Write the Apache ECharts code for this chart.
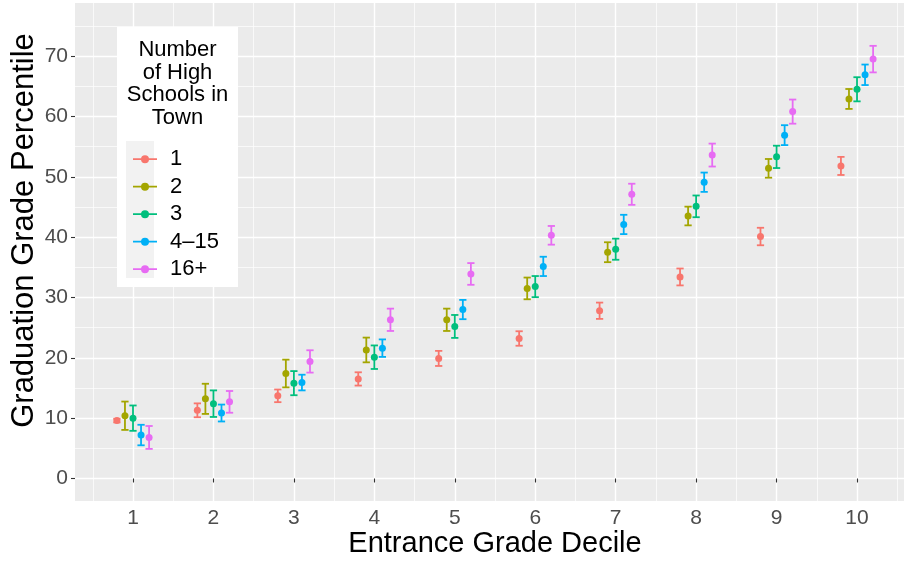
<!DOCTYPE html>
<html>
<head>
<meta charset="utf-8">
<script src="https://cdn.jsdelivr.net/npm/echarts@6/dist/echarts.min.js"></script>
<style>
  html, body { margin: 0; padding: 0; background: #ffffff; }
  #chart { width: 904px; height: 565px; }
</style>
</head>
<body>
<div id="chart"></div>
<script>
// Entrance grade deciles on the x axis
const deciles = [1, 2, 3, 4, 5, 6, 7, 8, 9, 10];

// Groups: number of high schools in town
const groupNames = ['1', '2', '3', '4–15', '16+'];
const groupColors = ['#F8766D', '#A3A500', '#00BF7D', '#00B0F6', '#E76BF3'];
const dodgeOffsets = [-0.2, -0.1, 0, 0.1, 0.2];

// Mean graduation grade percentile per decile, and half-width of the error bar
const mean1 = [9.6, 11.3, 13.7, 16.5, 19.9, 23.2, 27.8, 33.4, 40.1, 51.8];
const err1 = [0.3, 1.15, 1.05, 1.1, 1.25, 1.2, 1.35, 1.4, 1.45, 1.5];

const mean2 = [10.4, 13.2, 17.4, 21.3, 26.3, 31.5, 37.5, 43.5, 51.4, 62.9];
const err2 = [2.35, 2.5, 2.3, 2.05, 1.85, 1.8, 1.65, 1.55, 1.55, 1.65];

const mean3 = [10.0, 12.4, 15.8, 20.1, 25.2, 31.8, 38.0, 45.1, 53.3, 64.5];
const err3 = [2.1, 2.2, 2.0, 1.95, 1.9, 1.75, 1.75, 1.8, 1.85, 2.0];

const mean4to15 = [7.2, 10.85, 15.9, 21.6, 28.0, 35.15, 42.1, 49.1, 56.9, 66.9];
const err4to15 = [1.7, 1.4, 1.3, 1.45, 1.6, 1.6, 1.6, 1.6, 1.65, 1.7];

const mean16plus = [6.8, 12.7, 19.4, 26.3, 33.9, 40.3, 47.1, 53.6, 60.8, 69.5];
const err16plus = [1.9, 1.8, 1.85, 1.85, 1.8, 1.55, 1.75, 1.9, 2.0, 2.2];

// Axis ticks
const yTickValues = [0, 10, 20, 30, 40, 50, 60, 70];
const yMinorValues = [5, 15, 25, 35, 45, 55, 65, 75];
const xTickValues = deciles;
const xMinorValues = [0.5, 1.5, 2.5, 3.5, 4.5, 5.5, 6.5, 7.5, 8.5, 9.5, 10.5];

const groupMeans = [mean1, mean2, mean3, mean4to15, mean16plus];
const groupErrs = [err1, err2, err3, err4to15, err16plus];

const FONT = '"Liberation Sans", Arial, Helvetica, sans-serif';
const X_MIN = 0.279, X_MAX = 10.584;
const Y_MIN = -3.73, Y_MAX = 78.8;
const CAP_WIDTH = 0.09;

function renderErrorBar(params, api) {
  const x = api.value(0);
  const top = api.coord([x, api.value(2)]);
  const bot = api.coord([x, api.value(1)]);
  const half = api.size([CAP_WIDTH, 0])[0] / 2;
  const style = { stroke: api.visual('color'), lineWidth: 1.8, fill: null };
  return {
    type: 'group',
    children: [
      { type: 'line', shape: { x1: top[0], y1: top[1], x2: bot[0], y2: bot[1] }, style: style },
      { type: 'line', shape: { x1: top[0] - half, y1: top[1], x2: top[0] + half, y2: top[1] }, style: style },
      { type: 'line', shape: { x1: bot[0] - half, y1: bot[1], x2: bot[0] + half, y2: bot[1] }, style: style }
    ]
  };
}

const series = [];
groupNames.forEach(function (name, g) {
  const pts = deciles.map(function (d, i) { return [d + dodgeOffsets[g], groupMeans[g][i]]; });
  series.push({
    name: name,
    type: 'scatter',
    data: pts,
    symbol: 'circle',
    symbolSize: 7,
    itemStyle: { color: groupColors[g], opacity: 1 },
    z: 4,
    silent: true
  });
});
groupNames.forEach(function (name, g) {
  const bars = deciles.map(function (d, i) {
    const m = groupMeans[g][i], e = groupErrs[g][i];
    return [d + dodgeOffsets[g], m - e, m + e];
  });
  series.push({
    name: name,
    type: 'custom',
    renderItem: renderErrorBar,
    data: bars,
    encode: { x: 0, y: [1, 2] },
    itemStyle: { color: groupColors[g] },
    z: 3,
    silent: true
  });
});

// Legend key: horizontal stroke with a solid dot in the middle (same winding for both parts)
const legendIcon = 'path://M0,3.1 L24,3.1 L24,4.9 L0,4.9 Z M8,4 A4,4 0 1,1 16,4 A4,4 0 1,1 8,4 Z';

const option = {
  animation: false,
  backgroundColor: '#ffffff',
  textStyle: { fontFamily: FONT },
  grid: {
    left: 75, right: 0, top: 3, bottom: 64,
    containLabel: false,
    outerBoundsMode: 'none',
    show: true,
    backgroundColor: '#EBEBEB',
    borderWidth: 0
  },
  xAxis: [
    {
      type: 'value', min: X_MIN, max: X_MAX, position: 'bottom',
      axisLine: { show: false },
      axisTick: { show: true, length: 4, customValues: xTickValues, lineStyle: { color: '#333333', width: 1.1 } },
      axisLabel: { show: true, customValues: xTickValues, color: '#4D4D4D', fontSize: 21, fontFamily: FONT, margin: 7 },
      splitLine: { show: true, lineStyle: { color: '#ffffff', width: 1.4 } }
    },
    {
      type: 'value', min: X_MIN, max: X_MAX, position: 'top',
      axisLine: { show: false },
      axisTick: { show: false, customValues: xMinorValues },
      axisLabel: { show: false },
      splitLine: { show: true, lineStyle: { color: '#ffffff', width: 0.7 } }
    }
  ],
  yAxis: [
    {
      type: 'value', min: Y_MIN, max: Y_MAX, position: 'left',
      axisLine: { show: false },
      axisTick: { show: true, length: 4, customValues: yTickValues, lineStyle: { color: '#333333', width: 1.1 } },
      axisLabel: { show: true, customValues: yTickValues, color: '#4D4D4D', fontSize: 21, fontFamily: FONT, margin: 7 },
      splitLine: { show: true, lineStyle: { color: '#ffffff', width: 1.4 } }
    },
    {
      type: 'value', min: Y_MIN, max: Y_MAX, position: 'right',
      axisLine: { show: false },
      axisTick: { show: false, customValues: yMinorValues },
      axisLabel: { show: false },
      splitLine: { show: true, lineStyle: { color: '#ffffff', width: 0.7 } }
    }
  ],
  legend: {
    show: true,
    orient: 'vertical',
    left: 128,
    top: 142.2,
    itemWidth: 24,
    itemHeight: 8,
    itemGap: 3.5,
    icon: legendIcon,
    data: groupNames,
    selectedMode: false,
    textStyle: { fontSize: 22, fontFamily: FONT, color: '#000000', lineHeight: 24, padding: [0, 0, 0, 8] },
    z: 10
  },
  graphic: [
    {
      type: 'rect', z: 8, silent: true,
      shape: { x: 117, y: 27, width: 121, height: 260 },
      style: { fill: '#ffffff' }
    },
    {
      type: 'rect', z: 9, silent: true,
      shape: { x: 126, y: 141, width: 28, height: 137 },
      style: { fill: '#F2F2F2' }
    },
    {
      type: 'text', z: 9, silent: true,
      x: 177.5, y: 38.6,
      style: {
        text: 'Number\nof High\nSchools in\nTown',
        fill: '#000000', fontSize: 22, fontFamily: FONT, lineHeight: 22.7,
        align: 'center', textAlign: 'center', verticalAlign: 'top', textVerticalAlign: 'top'
      }
    },
    {
      type: 'text', silent: true,
      x: 495, y: 544,
      style: {
        text: 'Entrance Grade Decile',
        fill: '#000000', fontSize: 29, fontFamily: FONT,
        align: 'center', textAlign: 'center', verticalAlign: 'middle', textVerticalAlign: 'middle'
      }
    },
    {
      type: 'text', silent: true,
      x: 24, y: 230.5, rotation: Math.PI / 2,
      style: {
        text: 'Graduation Grade Percentile',
        fill: '#000000', fontSize: 31, fontFamily: FONT,
        align: 'center', textAlign: 'center', verticalAlign: 'middle', textVerticalAlign: 'middle'
      }
    }
  ],
  series: series
};

const chart = echarts.init(document.getElementById('chart'), null, { renderer: 'canvas' });
chart.setOption(option);
</script>
</body>
</html>
